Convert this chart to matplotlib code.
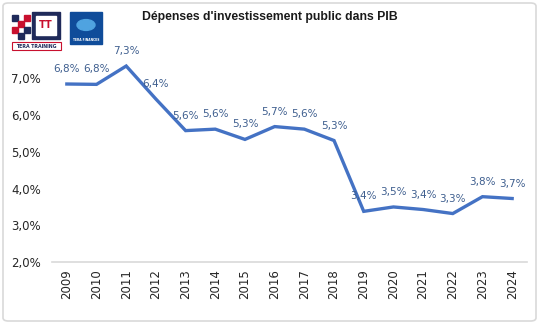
import matplotlib
matplotlib.use("Agg")
import matplotlib.pyplot as plt
from matplotlib.patches import FancyBboxPatch, Rectangle, Circle

years = ["2009", "2010", "2011", "2012", "2013", "2014", "2015", "2016",
         "2017", "2018", "2019", "2020", "2021", "2022", "2023", "2024"]
values = [6.85, 6.84, 7.34, 6.44, 5.58, 5.62, 5.34, 5.69,
          5.62, 5.31, 3.38, 3.50, 3.43, 3.32, 3.78, 3.73]
labels = ["6,8%", "6,8%", "7,3%", "6,4%", "5,6%", "5,6%", "5,3%", "5,7%",
          "5,6%", "5,3%", "3,4%", "3,5%", "3,4%", "3,3%", "3,8%", "3,7%"]
yticks = [2, 3, 4, 5, 6, 7]
ytick_labels = ["2,0%", "3,0%", "4,0%", "5,0%", "6,0%", "7,0%"]
title = "Dépenses d'investissement public dans PIB"

W, H = 539, 324
fig = plt.figure(figsize=(W / 100, H / 100), dpi=100)
fig.patch.set_facecolor("white")

# outer border
fig.patches.append(FancyBboxPatch((3 / W, 3 / H), 533 / W, 318 / H,
                                  boxstyle="round,pad=0,rounding_size=0.01",
                                  transform=fig.transFigure, fill=False,
                                  edgecolor="#D9D9D9", linewidth=1.2))

ax = fig.add_axes([52 / W, 1 - 262 / H, 475 / W, (262 - 50) / H])
x = list(range(len(years)))
ax.plot(x, values, color="#4472C4", linewidth=2.4, solid_joinstyle="miter")
for xi, v, lab in zip(x, values, labels):
    ax.annotate(lab, (xi, v), xytext=(0, 15), textcoords="offset pixels",
                ha="center", va="center", fontsize=7.5, color="#3F5F8F",
                family="DejaVu Sans")

ax.set_xlim(-0.5, len(years) - 0.5)
ax.set_ylim(2, 2 + 212 / 36.7)
ax.set_yticks(yticks)
ax.set_yticklabels(ytick_labels)
ax.set_xticks(x)
ax.set_xticklabels(years, rotation=90)
ax.tick_params(axis="both", length=0, labelsize=8.5, colors="#262626")
ax.tick_params(axis="y", pad=8)
ax.tick_params(axis="x", pad=5)
for s in ["top", "right", "left"]:
    ax.spines[s].set_visible(False)
ax.spines["bottom"].set_color("#D9D9D9")
ax.spines["bottom"].set_linewidth(1.2)

fig.text(270 / W, 1 - 17 / H, title, ha="center", va="center",
         fontsize=8.8, fontweight="bold", color="#1a1a1a", family="Liberation Sans")

# --- simple logo approximations ---
def fx(px):
    return px / W

def fy(py):
    return 1 - py / H

# checker pattern
checks = [(12, 15, "#1F2A5A"), (18, 21, "#C8102E"), (24, 27, "#1F2A5A"),
          (12, 27, "#C8102E"), (24, 15, "#C8102E"), (18, 33, "#1F2A5A")]
for cx, cy, c in checks:
    fig.patches.append(Rectangle((fx(cx), fy(cy + 6)), 6 / W, 6 / H,
                                 transform=fig.transFigure, color=c))
fig.patches.append(Rectangle((fx(32), fy(39)), 28 / W, 27 / H,
                             transform=fig.transFigure, color="#1F2A5A"))
fig.patches.append(Rectangle((fx(36), fy(35)), 20 / W, 19 / H,
                             transform=fig.transFigure, color="white"))
fig.text(fx(46), fy(25.5), "TT", ha="center", va="center", fontsize=7,
         color="#C8102E", fontweight="bold")
fig.patches.append(Rectangle((fx(12), fy(50)), 49 / W, 8 / H,
                             transform=fig.transFigure, fill=False,
                             edgecolor="#C8102E", linewidth=0.8))
fig.text(fx(36.5), fy(46), "TERA TRAINING", ha="center", va="center",
         fontsize=3.4, color="#1F2A5A", fontweight="bold")
fig.patches.append(Rectangle((fx(70), fy(44)), 32 / W, 32 / H,
                             transform=fig.transFigure, color="#0F4C9A"))
fig.patches.append(Circle((fx(86), fy(25)), 9 / W, transform=fig.transFigure,
                          color="#4FA3E0"))
fig.text(fx(86), fy(40), "TERA FINANCES", ha="center", va="center",
         fontsize=2.2, color="white", fontweight="bold")

fig.savefig("out.png", dpi=100)
